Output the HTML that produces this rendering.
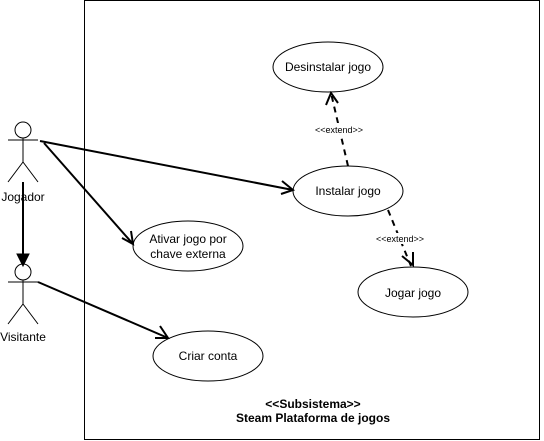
<!DOCTYPE html>
<html><head><style>body{margin:0;background:#fff}svg{display:block}</style></head>
<body>
<svg width="544" height="441" xmlns="http://www.w3.org/2000/svg" font-family="Liberation Sans, sans-serif">
<rect x="84.5" y="0.5" width="455" height="439" fill="none" stroke="#000" stroke-width="1"/>
<g fill="#fff" stroke="#000" stroke-width="1">
<ellipse cx="328" cy="67" rx="55" ry="25"/>
<ellipse cx="348" cy="191" rx="55" ry="25"/>
<ellipse cx="188" cy="246" rx="55" ry="25"/>
<ellipse cx="413" cy="292" rx="55" ry="25"/>
<ellipse cx="208" cy="356" rx="55" ry="25"/>
</g>
<g font-size="12" text-anchor="middle" fill="#000">
<text x="328" y="71">Desinstalar jogo</text>
<text x="348" y="195">Instalar jogo</text>
<text x="188" y="243">Ativar jogo por</text>
<text x="188" y="258">chave externa</text>
<text x="413" y="297">Jogar jogo</text>
<text x="208" y="360">Criar conta</text>
<text x="313" y="408" font-weight="bold">&lt;&lt;Subsistema&gt;&gt;</text>
<text x="313" y="422" font-weight="bold">Steam Plataforma de jogos</text>
<text x="23" y="201">Jogador</text>
<text x="23" y="341">Visitante</text>
</g>
<g stroke="#000" stroke-width="1" fill="none">
<circle cx="23" cy="130" r="8" fill="#fff"/>
<path d="M8 140H38M23 138V162L8 182M23 162L38 182"/>
<circle cx="23" cy="272" r="8" fill="#fff"/>
<path d="M8 282H38M23 280V304L8 324M23 304L38 324"/>
</g>
<g stroke="#000" stroke-width="2" fill="none">
<path d="M23 182V256"/>
<path d="M40 141L293 190M282 181L293 190L281 194"/>
<path d="M44 143L133 244M122 238L133 244L131 231"/>
<path d="M38 282L168 338M155 338L168 338L160 326"/>
<path d="M348 166L331 93" stroke-dasharray="6,5"/>
<path d="M326 105L331 93L338 103"/>
<path d="M388 210L411 266" stroke-dasharray="6,5"/>
<path d="M402 256L413 265L413 252"/>
</g>
<path d="M17 254L23 266L29 254Z" fill="#000" stroke="#000"/>
<g font-size="9" text-anchor="middle" fill="#000">
<rect x="311" y="123" width="56" height="11" fill="#fff"/>
<text x="339" y="133">&lt;&lt;extend&gt;&gt;</text>
<rect x="372" y="233" width="56" height="11" fill="#fff"/>
<text x="400" y="242">&lt;&lt;extend&gt;&gt;</text>
</g>
</svg>
</body></html>
